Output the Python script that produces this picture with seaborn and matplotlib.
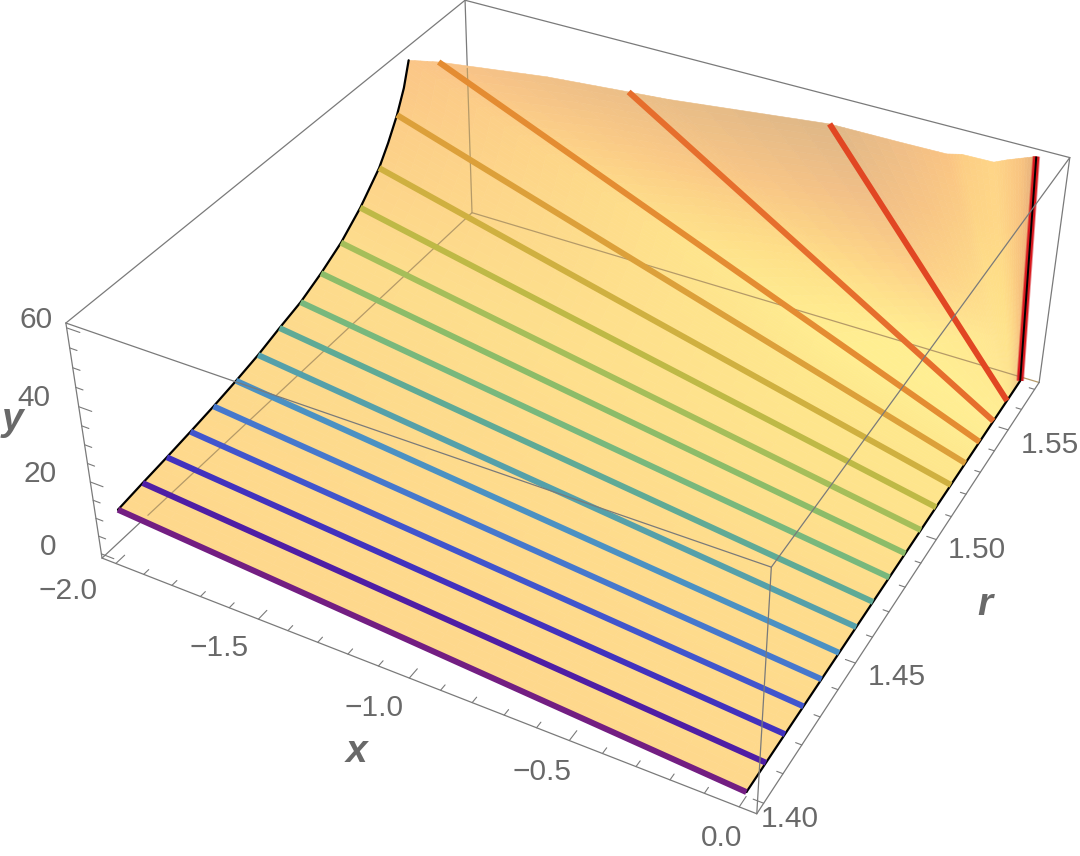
import numpy as np
import matplotlib
matplotlib.use('Agg')
import matplotlib.pyplot as plt
import seaborn as sns

sns.set_theme(style='white')
plt.rcParams['font.family'] = ['Liberation Sans', 'DejaVu Sans']

W, H = 1080, 856
x_range = (-2.05, 0.05)
r_range = (1.3965, 1.5735)
y_range = (-1.2, 61.2)

# where the box corners land in the image, (x, r, y) index -> pixel
box_pixels = {(0, 0, 0): (102, 558), (1, 0, 0): (757, 814), (1, 1, 0): (1039, 382), (0, 1, 0): (472, 213),
              (0, 0, 1): (66, 323), (1, 0, 1): (771, 567), (1, 1, 1): (1070, 158), (0, 1, 1): (465, 0)}

# constant r curves, each runs from y = 0 at x = 0 up to its end point
r_lines = [1.40, 1.41, 1.42, 1.43, 1.44, 1.45, 1.46, 1.47, 1.48, 1.49, 1.50, 1.51, 1.52, 1.53, 1.54, 1.55, 1.56, 1.57]
x_line_end = [-2, -2, -2, -2, -2, -2, -2, -2, -2, -2, -2, -2, -2, -2, -1.91, -1.29, -0.66, -0.04]
y_line_end = [11.6, 12.6, 13.5, 14.5, 15.6, 16.9, 18.4, 20.4, 22.2, 25.0, 28.4, 33.2, 39.4, 49.4, 61.2, 61.2, 61.2, 61.2]
line_colors = ['#731e82', '#4f1ea5', '#4232be', '#4155cd', '#4678cd', '#4b91c3', '#55a0aa', '#5faa96',
               '#78b87d', '#8cbc69', '#a5be5a', '#beb946', '#cfb040', '#dca03a', '#e48c32', '#e66e2d',
               '#e14623', '#d7191f']

# outline of the surface, the last rows follow the clipped top edge
r_surface = [1.40, 1.41, 1.42, 1.43, 1.44, 1.45, 1.46, 1.47, 1.48, 1.49, 1.50, 1.51, 1.52, 1.525, 1.53, 1.534, 1.537,
             1.54, 1.5468, 1.55, 1.5515, 1.56, 1.5602, 1.5605, 1.5621, 1.5624, 1.565, 1.5675, 1.57]
x_surface = [-2, -2, -2, -2, -2, -2, -2, -2, -2, -2, -2, -2, -2, -2, -2, -2, -2,
             -1.91, -1.56, -1.29, -1.16, -0.66, -0.42, -0.28, -0.24, -0.14, -0.11, -0.075, -0.04]
y_surface = [11.6, 12.6, 13.5, 14.5, 15.6, 16.9, 18.4, 20.4, 22.2, 25.0, 28.4, 33.2, 39.4, 44.0, 49.4, 55.0, 61.2,
             61.2, 61.2, 61.2, 61.2, 61.2, 61.2, 61.2, 61.2, 61.2, 61.2, 61.2, 61.2]

# surface colour, rows by r, columns from the x = 0 side to the far end of the row
shade_r = [1.40, 1.47, 1.50, 1.53, 1.54, 1.55, 1.56, 1.5602, 1.5605, 1.5621, 1.5624, 1.565, 1.5675, 1.57]
shade_u = [0, 0.25, 0.5, 0.75, 1]
shade_rgb = [
    [(254, 216, 140), (254, 216, 140), (254, 216, 140), (254, 216, 140), (254, 216, 140)],
    [(254, 221, 140), (254, 221, 140), (254, 220, 140), (253, 219, 140), (253, 218, 140)],
    [(254, 226, 140), (254, 226, 140), (254, 224, 140), (253, 222, 140), (253, 220, 140)],
    [(254, 232, 140), (254, 232, 140), (254, 226, 140), (253, 216, 138), (252, 205, 135)],
    [(254, 236, 145), (255, 238, 145), (254, 228, 140), (253, 212, 135), (250, 195, 135)],
    [(255, 238, 148), (255, 238, 145), (254, 222, 135), (250, 200, 133), (235, 190, 135)],
    [(255, 235, 145), (255, 232, 145), (252, 205, 135), (240, 190, 135), (222, 183, 135)],
    [(255, 232, 145), (255, 232, 145), (253, 212, 135), (248, 197, 132), (240, 190, 135)],
    [(255, 232, 145), (255, 230, 145), (253, 218, 137), (251, 205, 133), (250, 195, 130)],
    [(254, 230, 145), (254, 228, 142), (254, 222, 137), (253, 212, 133), (252, 205, 132)],
    [(253, 228, 145), (254, 228, 140), (254, 222, 135), (254, 215, 135), (254, 213, 135)],
    [(248, 215, 140), (253, 218, 135), (253, 212, 132), (252, 207, 132), (252, 205, 132)],
    [(240, 205, 140), (250, 200, 130), (248, 195, 125), (248, 195, 128), (248, 195, 128)],
    [(225, 180, 135), (232, 170, 120), (235, 170, 120), (232, 172, 122), (225, 175, 125)],
]

x_ticklabels = ['\u22122.0', '\u22121.5', '\u22121.0', '\u22120.5', '0.0']
r_ticklabels = ['1.40', '1.45', '1.50', '1.55']
y_ticklabels = ['0', '20', '40', '60']

x_label_px = [(68, 591), (219, 648), (374, 708), (542, 772), (722, 838)]
r_label_px = [(790, 819), (897, 677), (977, 550), (1050, 445)]
y_label_px = [(48, 547), (40, 474), (34, 398), (36, 320)]

fig = plt.figure(figsize=(W / 100, H / 100), dpi=100)
# mplot3d keeps its axes square, so make the square cover the whole figure
ax = fig.add_axes([0, (H - W) / 2 / H, 1, W / H], projection='3d')
ax.set_axis_off()
ax.patch.set_visible(False)
ax.computed_zorder = False


def box_projection():
    # camera matrix from the box corners, the picture has its own perspective
    to_2d = ax.transData.inverted()
    rows = []
    for corner, (px, py) in box_pixels.items():
        u, v = to_2d.transform((px, H - py))
        c = list(corner) + [1]
        rows.append(c + [0, 0, 0, 0] + [-u * k for k in c])
        rows.append([0, 0, 0, 0] + c + [-v * k for k in c])
    p = np.linalg.svd(np.array(rows, float))[2][-1].reshape(3, 4)
    depth = [p[2] @ np.array(list(c) + [1]) for c in box_pixels]
    p = p / depth[int(np.argmax(np.abs(depth)))] * 0.9
    scale = np.array([[1 / (x_range[1] - x_range[0]), 0, 0, -x_range[0] / (x_range[1] - x_range[0])],
                      [0, 1 / (r_range[1] - r_range[0]), 0, -r_range[0] / (r_range[1] - r_range[0])],
                      [0, 0, 1 / (y_range[1] - y_range[0]), -y_range[0] / (y_range[1] - y_range[0])],
                      [0, 0, 0, 1]])
    m = np.vstack([p[0], p[1], [0, 0, 0, -1], p[2]])
    return m @ scale


ax.get_proj = box_projection

# lines that sit behind the surface go first
x0, x1 = x_range
r0, r1 = r_range
y0, y1 = y_range
frame = '#7a7a7a'
hidden = '#b59a68'
ax.plot([x0, x0], [r0, r1], [y0, y0], color=frame, lw=0.9, zorder=1)
ax.plot([x0, x0], [r1, r1], [y0, y1], color=frame, lw=0.9, zorder=1)

# fine mesh only to draw the sheet and blend its colour smoothly
row_pos = np.linspace(0, len(r_surface) - 1, (len(r_surface) - 1) * 5 + 1)
row_idx = np.arange(len(r_surface))
r_fine = np.interp(row_pos, row_idx, r_surface)
x_fine = np.interp(row_pos, row_idx, x_surface)
y_fine = np.interp(row_pos, row_idx, y_surface)
u = np.linspace(0, 1, 41)
U, R = np.meshgrid(u, r_fine)
X = U * x_fine[:, None]
Y = U * y_fine[:, None]

shade = np.array(shade_rgb, float) / 255
r_mid = (r_fine[:-1] + r_fine[1:]) / 2
u_mid = (u[:-1] + u[1:]) / 2
colors = np.zeros((len(r_mid), len(u_mid), 4))
colors[..., 3] = 1
for ch in range(3):
    by_u = np.array([np.interp(u_mid, shade_u, shade[i, :, ch]) for i in range(len(shade_r))])
    for j in range(len(u_mid)):
        colors[:, j, ch] = np.interp(r_mid, shade_r, by_u[:, j])
ax.plot_surface(X, R, Y, facecolors=colors, rstride=1, cstride=1, shade=False,
                linewidth=0.4, antialiased=True, zorder=2)

# the same back edges seen through the sheet
ax.plot([x0, x0], [1.415, r1], [y0, y0], color=hidden, lw=0.9, zorder=3)
ax.plot([x0, x1], [r1, r1], [y0, y0], color=hidden, lw=0.9, zorder=3)
ax.plot([x0, x0], [r1, r1], [y0, 42], color=hidden, lw=0.9, zorder=3)

# black mesh boundary
n_left = x_surface.count(-2)
ax.plot([x_surface[0]] * n_left, r_surface[:n_left], y_surface[:n_left], color='black', lw=1.6, zorder=4)
ax.plot([0, 0], [1.40, 1.57], [0, 0], color='black', lw=1.6, zorder=4)
ax.plot([0, -2], [1.40, 1.40], [0, y_line_end[0]], color='black', lw=1.4, zorder=4)

palette = sns.color_palette(line_colors)
for r, xe, ye, c in zip(r_lines, x_line_end, y_line_end, palette):
    if r == 1.57:
        ax.plot([0, xe], [r, r], [0, ye], color=c, lw=5.6, alpha=0.45, zorder=5, solid_capstyle='butt')
    ax.plot([0, xe], [r, r], [0, ye], color=c, lw=4.3, zorder=5, solid_capstyle='butt')
ax.plot([0, x_line_end[-1]], [1.57, 1.57], [0, y_line_end[-1]], color='black', lw=1.4, zorder=6,
        solid_capstyle='butt')

# box edges in front of everything
edges = [((x0, x1), (r0, r0), (y0, y0)), ((x1, x1), (r0, r1), (y0, y0)),
         ((x0, x0), (r0, r0), (y0, y1)), ((x1, x1), (r0, r0), (y0, y1)), ((x1, x1), (r1, r1), (y0, y1)),
         ((x0, x1), (r0, r0), (y1, y1)), ((x1, x1), (r0, r1), (y1, y1)),
         ((x0, x1), (r1, r1), (y1, y1)), ((x0, x0), (r0, r1), (y1, y1))]
for ex, er, ey in edges:
    ax.plot(ex, er, ey, color=frame, lw=0.9, zorder=7)

# ticks
for t in np.arange(0, 21):
    v = -2 + t * 0.1
    n = 0.0035 if t % 5 == 0 else 0.002
    ax.plot([v, v], [r0, r0 + n], [y0, y0], color=frame, lw=0.8, zorder=7)
for t in np.arange(0, 18):
    v = 1.40 + t * 0.01
    n = 0.03 if t % 5 == 0 else 0.018
    ax.plot([x1, x1 - n], [v, v], [y0, y0], color=frame, lw=0.8, zorder=7)
for t in np.arange(0, 13):
    v = t * 5
    n = 0.045 if t % 4 == 0 else 0.025
    ax.plot([x0, x0 + n], [r0, r0], [v, v], color=frame, lw=0.8, zorder=7)

grey = '#696969'
for labels, spots in ((x_ticklabels, x_label_px), (r_ticklabels, r_label_px), (y_ticklabels, y_label_px)):
    for s, (px, py) in zip(labels, spots):
        fig.text(px / W, 1 - py / H, s, ha='center', va='center', fontsize=21.5, color=grey)

for s, (px, py) in zip(['x', 'y', 'r'], [(357, 752), (12, 420), (985, 605)]):
    fig.text(px / W, 1 - py / H, s, ha='center', va='center', fontsize=28, color=grey,
             style='italic', weight='bold')

fig.savefig('out.png', dpi=100)
plt.close(fig)
